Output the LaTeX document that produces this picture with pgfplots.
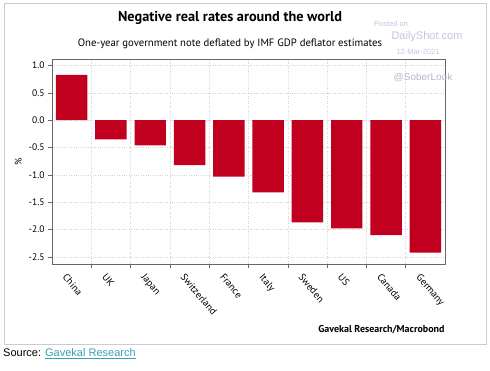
\documentclass[border=0pt]{standalone}
\usepackage{pgfplots}
\pgfplotsset{compat=1.18}
\usepackage{fontspec}
\setmainfont{PT Sans}
\newfontfamily\arialf{Liberation Sans}
\definecolor{barred}{HTML}{C0001E}
\definecolor{wm}{HTML}{C4C4E4}
\definecolor{link}{HTML}{3A9FB5}
\begin{document}
\begin{tikzpicture}[x=1pt,y=1pt]
\fill[white] (0,0) rectangle (490,371);
\draw[gray!40, line width=0.8pt] (4,27) rectangle (486,368);
\begin{axis}[
  at={(52pt,107pt)}, anchor=south west,
  scale only axis, width=393pt, height=205pt,
  xmin=-0.5, xmax=9.5, ymin=-2.63, ymax=1.12,
  axis line style={gray!80!black, line width=0.8pt},
  ytick={-2.5,-2,-1.5,-1,-0.5,0,0.5,1},
  yticklabel style={/pgf/number format/fixed, /pgf/number format/fixed zerofill, /pgf/number format/precision=1, /pgf/number format/assume math mode=true, font=\fontsize{9.5}{10}\selectfont},
  ymajorgrids,
  grid style={gray!35, dotted, line width=0.5pt},
  xtick={0,...,9},
  xticklabels={China,UK,Japan,Switzerland,France,Italy,Sweden,US,Canada,Germany},
  major x tick style={draw=none},
  minor xtick={0.5,1.5,...,8.5},
  xminorgrids,
  minor grid style={gray!35, dotted, line width=0.5pt},
  minor x tick style={gray!80!black, line width=0.6pt},
  tick style={gray!80!black, line width=0.6pt},
  tick align=outside, tick pos=left,
  major tick length=4pt, minor tick length=4pt,
  xticklabel style={rotate=-50, anchor=north west, inner sep=1pt, xshift=0pt, yshift=-5pt, font=\fontsize{10}{11}\selectfont},
  ylabel={\%}, ylabel style={font=\fontsize{9.5}{10}\selectfont},
  ylabel shift=0pt,
]
\addplot[ybar, bar width=0.8, fill=barred, draw=none] coordinates {
(0,0.83) (1,-0.35) (2,-0.46) (3,-0.82) (4,-1.03) (5,-1.32) (6,-1.87) (7,-1.98) (8,-2.10) (9,-2.42)};
\end{axis}
\node[font=\bfseries\fontsize{14.3}{16}\selectfont] at (230,353) {Negative real rates around the world};
\node[font=\fontsize{10.7}{12}\selectfont] at (230,327) {One-year government note deflated by IMF GDP deflator estimates};
\node[font=\bfseries\fontsize{10}{11}\selectfont, anchor=east] at (448,41) {Gavekal Research/Macrobond};
\node[font=\arialf\fontsize{7.5}{8}\selectfont, text=wm] at (391,347) {Posted on};
\node[font=\arialf\fontsize{11}{12}\selectfont, text=wm] at (427,334) {DailyShot.com};
\node[font=\arialf\fontsize{7.5}{8}\selectfont, text=wm] at (418,319) {12-Mar-2021};
\node[font=\arialf\fontsize{10}{11}\selectfont, text=wm!80!gray] at (423,293) {@SoberLook};
\node[font=\arialf\fontsize{11}{12}\selectfont, anchor=west, inner sep=0pt] at (3,17) {Source: \textcolor{link}{\underline{Gavekal Research}}};
\end{tikzpicture}
\end{document}
